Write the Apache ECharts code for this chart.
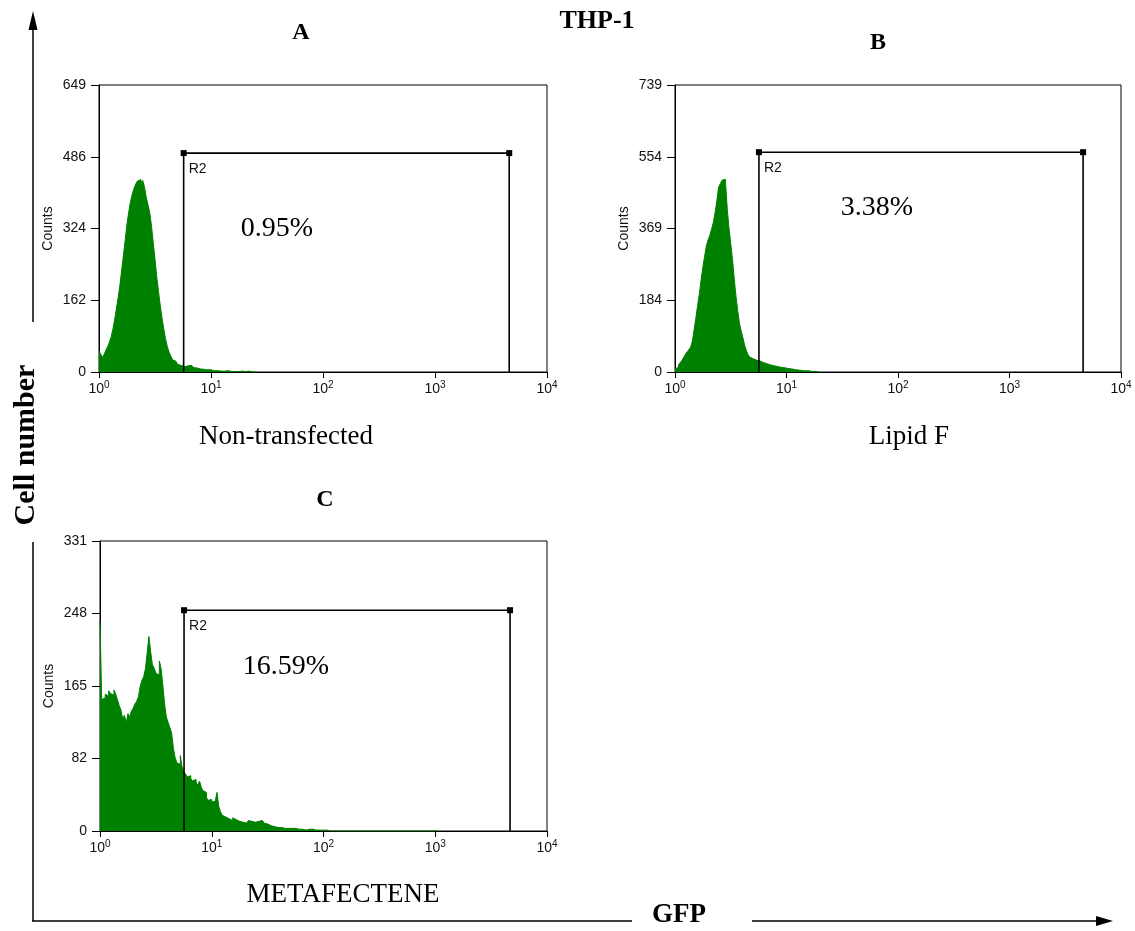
<!DOCTYPE html>
<html><head><meta charset="utf-8">
<script src="https://cdn.jsdelivr.net/npm/echarts@6/dist/echarts.min.js"></script>
<style>html,body{margin:0;padding:0;background:#fff}#c{width:1135px;height:931px}</style>
</head><body><div id="c"></div>
<script>
// ---- data ----
const channelCount = 256;
const xTickExponents = ['0', '1', '2', '3', '4'];
const yTicksA = ['0', '162', '324', '486', '649'];
const yTicksB = ['0', '184', '369', '554', '739'];
const yTicksC = ['0', '82', '165', '248', '331'];
const yMaxA = 649, yMaxB = 739, yMaxC = 331;

// counts per channel (256 log channels over 10^0..10^4), starting at channel 0
const countsA = [48,40,33,40,50,58,68,80,98,120,145,170,198,232,265,300,335,362,385,402,415,425,432,435,428,433,418,395,378,360,330,292,255,215,182,150,122,98,75,58,45,36,28,24,20,17,15,13,12,11,14,16,15,12,10,9,8,7,8,6,5,5,4,5,4,3,4,3,3,2,3,2,2,3,2,1,2,1,2,1,1,2,1,1,1,2,1,0,1,0];
const countsB = [8,12,18,24,30,38,46,52,58,64,80,110,140,172,202,238,270,298,325,340,352,368,385,410,440,475,485,494,496,488,420,370,330,290,240,195,158,125,105,88,68,55,44,38,34,31,30,27,28,25,24,22,21,20,18,17,16,15,14,14,12,11,11,10,9,9,8,7,6,6,5,4,4,3,3,2,3,2,1,2,1,1,0];
const countsC = [239,150,152,156,154,160,157,155,161,156,150,143,138,128,132,123,134,130,137,140,145,148,153,165,172,176,185,203,222,205,190,186,180,178,194,185,166,145,130,124,118,112,95,84,78,76,86,73,68,65,62,63,60,57,59,56,52,57,50,46,44,38,35,36,33,34,32,44,28,22,18,16,17,14,13,12,15,13,14,11,12,10,11,9,10,12,11,12,10,9,11,10,12,11,9,8,7,6,6,5,5,4,5,4,4,3,4,3,3,3,2,3,2,2,3,2,2,1,2,2,1,2,2,1,2,1,2,1,2,1,1,0];
const sparseC = [[156, 1], [192, 1]]; // isolated events [channel, count]

// R2 gates: [low GFP, high GFP, count level]
const gateA = [5.7, 4600, 495];
const gateB = [5.66, 4570, 566];
const gateC = [5.65, 4670, 252];

const percents = ['0.95%', '3.38%', '16.59%'];
const captions = ['Non-transfected', 'Lipid F', 'METAFECTENE'];
const letters = ['A', 'B', 'C'];
const mainTitle = 'THP-1';
const yTitle = 'Cell number';
const xTitle = 'GFP';
const gateName = 'R2';
const countsName = 'Counts';

// ---- chart ----
const SANS = '"Liberation Sans", Arial, sans-serif';
const SERIF = '"Liberation Serif", "Times New Roman", serif';
const GREEN = '#008000';

const panels = [
  {counts: countsA, sparse: [], ticks: yTicksA, max: yMaxA, gate: gateA,
   grid: {left: 99, top: 85, width: 448, height: 287}},
  {counts: countsB, sparse: [], ticks: yTicksB, max: yMaxB, gate: gateB,
   grid: {left: 675, top: 85, width: 446, height: 287}},
  {counts: countsC, sparse: sparseC, ticks: yTicksC, max: yMaxC, gate: gateC,
   grid: {left: 100, top: 541, width: 447, height: 290}}
];

const grid = [], xAxis = [], yAxis = [], series = [];
panels.forEach((p, k) => {
  grid.push(Object.assign({show: true, borderColor: '#000', borderWidth: 1, backgroundColor: 'transparent'}, p.grid));
  // hidden channel axis for the histogram
  xAxis.push({type: 'value', gridIndex: k, min: 0, max: channelCount, show: false});
  // visible log fluorescence axis
  xAxis.push({
    type: 'log', logBase: 10, gridIndex: k, min: 1, max: 10000, position: 'bottom',
    axisLine: {show: true, onZero: false, lineStyle: {color: '#000', width: 1}},
    axisTick: {show: true, inside: false, length: 6, lineStyle: {color: '#000'}},
    minorTick: {show: false}, splitLine: {show: false},
    axisLabel: {
      margin: 8, color: '#111', fontSize: 14, fontFamily: SANS, lineHeight: 18,
      formatter: (v) => '10{s|' + xTickExponents[Math.round(Math.log10(v))] + '}',
      rich: {s: {fontSize: 10, fontFamily: SANS, color: '#111', verticalAlign: 'top', lineHeight: 12}}
    }
  });
  yAxis.push({
    type: 'value', gridIndex: k, min: 0, max: p.max, interval: p.max / 4,
    axisLine: {show: true, lineStyle: {color: '#000', width: 1}},
    axisTick: {show: true, inside: false, length: 8, lineStyle: {color: '#000'}},
    splitLine: {show: false},
    axisLabel: {margin: 13, color: '#111', fontSize: 14, fontFamily: SANS,
      formatter: (v) => p.ticks[Math.round(v / (p.max / 4))]},
    name: countsName, nameLocation: 'middle', nameRotate: 90, nameGap: 44,
    nameTextStyle: {color: '#111', fontSize: 14, fontFamily: SANS}
  });
  const hist = p.counts.map((v, i) => [i, v]);
  hist.push([p.counts.length, 0]);
  p.sparse.forEach(([ch, v]) => { hist.push([ch, v]); hist.push([ch + 1, 0]); });
  series.push({
    type: 'line', xAxisIndex: 2 * k, yAxisIndex: k, step: 'end', symbol: 'none',
    data: hist, lineStyle: {color: GREEN, width: 1}, itemStyle: {color: GREEN},
    areaStyle: {color: GREEN, opacity: 1}, silent: true, z: 2, animation: false
  });
  const [lo, hi, lvl] = p.gate;
  series.push({
    type: 'line', xAxisIndex: 2 * k + 1, yAxisIndex: k, symbol: 'rect', symbolSize: 6,
    itemStyle: {color: '#000'}, lineStyle: {color: '#000', width: 1.6}, z: 5, animation: false,
    data: [
      {value: [lo, 0], symbol: 'none'},
      {value: [lo, lvl], label: {show: true, formatter: gateName, position: [8, 12],
        color: '#111', fontSize: 14, fontFamily: SANS, align: 'left', verticalAlign: 'top'}},
      {value: [hi, lvl]},
      {value: [hi, 0], symbol: 'none'}
    ]
  });
});

function txt(text, x, y, size, bold, rot) {
  return {type: 'text', x: x, y: y, rotation: rot || 0, z: 10,
    style: {text: text, fill: '#000', fontSize: size, fontWeight: bold ? 'bold' : 'normal',
      fontFamily: SERIF, textAlign: 'center', textVerticalAlign: 'middle'}};
}
function ln(x1, y1, x2, y2) {
  return {type: 'line', z: 10, shape: {x1, y1, x2, y2}, style: {stroke: '#000', lineWidth: 1.5}};
}
const graphic = [
  txt(mainTitle, 597, 21, 26, true),
  txt(letters[0], 301, 33, 24, true),
  txt(letters[1], 878, 43, 24, true),
  txt(letters[2], 325, 500, 24, true),
  txt(percents[0], 277, 229, 28, false),
  txt(percents[1], 877, 208, 28, false),
  txt(percents[2], 286, 667, 28, false),
  txt(captions[0], 286, 437, 27, false),
  txt(captions[1], 909, 437, 27, false),
  txt(captions[2], 343, 895, 27, false),
  txt(yTitle, 26, 445, 30, true, Math.PI / 2),
  txt(xTitle, 679, 915, 27, true),
  ln(33, 26, 33, 322),
  ln(33, 542, 33, 921),
  ln(32, 921, 632, 921),
  ln(752, 921, 1100, 921),
  {type: 'polygon', z: 10, shape: {points: [[33, 11], [28.5, 30], [37.5, 30]]}, style: {fill: '#000'}},
  {type: 'polygon', z: 10, shape: {points: [[1113, 921], [1096, 916], [1096, 926]]}, style: {fill: '#000'}}
];

const chart = echarts.init(document.getElementById('c'), null, {renderer: 'canvas'});
chart.setOption({animation: false, backgroundColor: '#fff', grid, xAxis, yAxis, series, graphic});
</script></body></html>
